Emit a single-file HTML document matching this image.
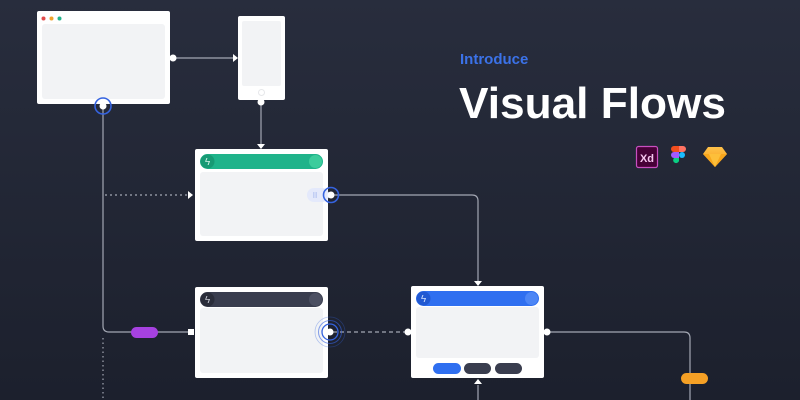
<!DOCTYPE html>
<html><head><style>
html,body{margin:0;padding:0;width:800px;height:400px;overflow:hidden;background:#232838}
svg{display:block}
text{font-family:"Liberation Sans",sans-serif}
</style></head><body>
<svg width="800" height="400" viewBox="0 0 800 400" xmlns="http://www.w3.org/2000/svg">
<defs>
<linearGradient id="bg" x1="0" y1="0" x2="0" y2="1"><stop offset="0" stop-color="#282d3d"/><stop offset="1" stop-color="#1c202d"/></linearGradient>
<linearGradient id="fig" x1="0" y1="0" x2="0" y2="1"><stop offset="0" stop-color="#ffc24a"/><stop offset="1" stop-color="#f59a12"/></linearGradient>
</defs>
<rect width="800" height="400" fill="url(#bg)"/>

<g stroke="#a3a7b3" stroke-width="1.2" fill="none">
<line x1="173" y1="58" x2="233" y2="58"/>
<line x1="261" y1="102" x2="261" y2="144"/>
<path d="M103 108 V326 Q103 332 109 332 H190"/>
<line x1="105" y1="195" x2="188" y2="195" stroke-dasharray="2 3"/>
<path d="M331 195 H472 Q478 195 478 201 V284"/>
<line x1="333" y1="332" x2="406" y2="332" stroke-dasharray="4 3"/>
<path d="M547 332 H684 Q690 332 690 338 V400"/>
<line x1="478" y1="385" x2="478" y2="400"/>
<line x1="103" y1="338" x2="103" y2="400" stroke-dasharray="1.5 3"/>
</g>
<g fill="#ffffff">
<polygon points="233,54 238,58 233,62"/>
<polygon points="257,144 265,144 261,149"/>
<polygon points="188,191 193,195 188,199"/>
<polygon points="474,281 482,281 478,286"/>
<polygon points="474,384 482,384 478,379"/>
<circle cx="173" cy="58" r="3.5"/>
<circle cx="261" cy="102" r="3.5"/>
<circle cx="408" cy="332" r="3.5"/>
<circle cx="547" cy="332" r="3.5"/>
<rect x="188" y="329" width="6" height="6"/>
</g>

<rect x="37" y="11" width="133" height="93" rx="2" fill="#fff"/>
<rect x="42" y="24" width="123" height="75" rx="3" fill="#f2f3f5"/>
<circle cx="43.5" cy="18.5" r="2" fill="#e14b4b"/>
<circle cx="51.5" cy="18.5" r="2" fill="#f0a32b"/>
<circle cx="59.5" cy="18.5" r="2" fill="#22b38a"/>

<rect x="238" y="16" width="47" height="84" rx="2" fill="#fff"/>
<rect x="242" y="21" width="39" height="65" rx="2" fill="#f2f3f5"/>
<circle cx="261.5" cy="92.5" r="3" fill="none" stroke="#e6e7ea" stroke-width="1"/>

<circle cx="103" cy="106" r="8" fill="none" stroke="#3563e0" stroke-width="1.6"/>
<circle cx="103" cy="106" r="3.5" fill="#fff"/>

<rect x="195" y="149" width="133" height="92" rx="2" fill="#fff"/>
<rect x="200" y="172" width="123" height="64" rx="3" fill="#f2f3f5"/>
<rect x="200" y="154" width="123" height="15" rx="7.5" fill="#1fb38a"/>
<circle cx="207.5" cy="161.5" r="7" fill="#179a74"/>
<circle cx="315.5" cy="161.5" r="6.5" fill="#3ccc9c"/>
<text x="207.5" y="165" font-size="10" fill="#cff3e6" text-anchor="middle">ϟ</text>
<rect x="307" y="188" width="22" height="14" rx="7" fill="#e4e9fb"/>
<text x="315" y="198" font-size="8" fill="#9fb2ec" text-anchor="middle">II</text>
<circle cx="331" cy="195" r="7.5" fill="none" stroke="#3563e0" stroke-width="1.6"/>
<circle cx="331" cy="195" r="3.5" fill="#fff"/>

<rect x="195" y="287" width="133" height="91" rx="2" fill="#fff"/>
<rect x="200" y="308" width="123" height="65" rx="3" fill="#f2f3f5"/>
<rect x="200" y="292" width="123" height="15" rx="7.5" fill="#393d4e"/>
<circle cx="207.5" cy="299.5" r="7" fill="#2a2d3a"/>
<circle cx="315.5" cy="299.5" r="6.5" fill="#4c5062"/>
<text x="207.5" y="303" font-size="10" fill="#c9ccd6" text-anchor="middle">ϟ</text>
<circle cx="330" cy="332" r="15" fill="none" stroke="#3563e0" stroke-width="0.8" opacity="0.35"/>
<circle cx="330" cy="332" r="11.5" fill="none" stroke="#3563e0" stroke-width="1" opacity="0.6"/>
<circle cx="330" cy="332" r="8" fill="none" stroke="#3563e0" stroke-width="1.3"/>
<circle cx="330" cy="332" r="3.5" fill="#fff"/>

<rect x="131" y="327" width="27" height="11" rx="5.5" fill="#a641e0"/>

<rect x="411" y="286" width="133" height="92" rx="2" fill="#fff"/>
<rect x="416" y="307" width="123" height="51" rx="3" fill="#f2f3f5"/>
<rect x="416" y="291" width="123" height="15" rx="7.5" fill="#2f6ff0"/>
<circle cx="423.5" cy="298.5" r="7" fill="#2159d2"/>
<circle cx="531.5" cy="298.5" r="6.5" fill="#4d86f5"/>
<text x="423.5" y="302" font-size="10" fill="#d2e0ff" text-anchor="middle">ϟ</text>
<rect x="433" y="363" width="28" height="11" rx="5.5" fill="#2f6ff0"/>
<rect x="464" y="363" width="27" height="11" rx="5.5" fill="#393d4e"/>
<rect x="495" y="363" width="27" height="11" rx="5.5" fill="#393d4e"/>

<rect x="681" y="373" width="27" height="11" rx="5.5" fill="#f5a025"/>

<text x="460" y="64" font-size="15" font-weight="bold" fill="#3b72e8">Introduce</text>
<text x="459" y="118" font-size="44" font-weight="bold" fill="#ffffff" textLength="267" lengthAdjust="spacingAndGlyphs">Visual Flows</text>

<rect x="636.5" y="146.5" width="21" height="21" rx="2" fill="#470137" stroke="#c94fc0" stroke-width="1.2"/>
<text x="647" y="162" font-size="11" font-weight="bold" fill="#f7c6ef" text-anchor="middle">Xd</text>
<g>
<path d="M674 146 h5 v6 h-5 a3 3 0 0 1 0-6z" fill="#f24e1e"/>
<path d="M679 146 h4 a3 3 0 0 1 0 6 h-4z" fill="#ff7262"/>
<path d="M674 152 h5 v6 h-5 a3 3 0 0 1 0-6z" fill="#a259ff"/>
<circle cx="682" cy="155" r="3" fill="#1abcfe"/>
<path d="M674 158 h5 v3 a3 3 0 1 1 -5 -3z" fill="#0acf83"/>
</g>
<polygon points="708,147 722,147 727,154 715,167 703,154" fill="url(#fig)"/>
<polygon points="703,154 727,154 715,167" fill="#f7a61c"/>
<polygon points="709,154 721,154 715,167" fill="#fdbf3a"/>
</svg>
</body></html>
